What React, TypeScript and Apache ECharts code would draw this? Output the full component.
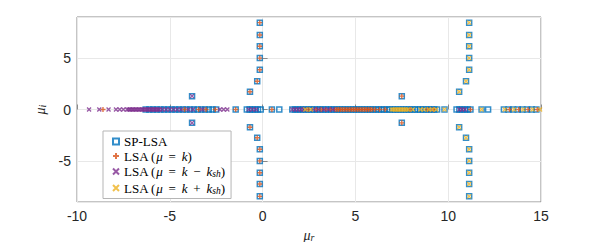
import { useEffect, useRef } from 'react';
import * as echarts from 'echarts';

// ---- data ----
const spRealRe = [
  -6.3, -6.1, -5.9, -5.7, -5.5, -5.3, -5.1, -4.9, -4.7, -4.5, -4.3, -4.1, -3.9, -3.7, -3.5, -3.3,
  -3.1, -2.9, -2.7, -2.5, -1.45, -0.85, -0.7, -0.55, -0.4, -0.25, -0.1, 0.5, 0.9,
  1.6, 1.75, 1.9, 2.05, 2.2, 2.35, 2.5, 2.65, 2.8, 2.95, 3.1, 3.25, 3.4, 3.55, 3.7, 3.85, 4.0,
  4.15, 4.3, 4.45, 4.6, 4.75, 4.9, 5.05, 5.2, 5.35, 5.5, 5.65, 5.8, 5.95, 6.1, 6.25, 6.4, 6.55,
  6.7, 6.85, 7.0, 7.15, 7.3, 7.45, 7.6, 7.75, 7.9, 8.05, 8.2, 8.35, 8.5, 8.65, 8.8, 8.95, 9.1,
  9.25, 9.4, 9.8, 10.45, 10.6, 10.75, 10.9, 11.05, 11.2, 11.8, 12.15, 13.0, 13.25, 13.5, 13.75,
  14.0, 14.25, 14.5, 14.75,
];
const kRealRe = [
  -8.6, -4.2, -3.45, -3.05, -2.55, -1.45, 0.5, 2.45, 2.9, 3.15, 3.4, 3.65, 3.9, 4.0, 4.1, 4.2,
  4.3, 4.4, 4.5, 4.6, 4.7, 4.8, 4.9, 5.0, 5.1, 5.2, 5.3, 5.4, 5.5, 5.6, 5.7, 5.8, 5.9, 6.05, 6.3,
  6.6, 7.95, 8.9, 9.2, 11.2, 13.3, 13.8, 14.3, 14.8,
];
const kMinusRealRe = [
  -9.35, -8.8, -8.3, -7.9, -7.7, -7.5, -7.3, -7.22, -7.14, -7.06, -6.98, -6.9, -6.82, -6.74,
  -6.66, -6.58, -6.5, -6.42, -6.34, -6.26, -6.18, -6.1, -6.02, -5.94, -5.86, -5.78, -5.7, -5.62,
  -5.55, -5.4, -5.2, -5.0, -4.8, -4.6, -4.4, -4.0, -3.75, -3.25, -2.3, -2.1, -1.9, -0.75, -0.55,
  -0.35, 1.6, 1.75, 1.9, 2.05, 2.2, 2.75, 3.0, 3.3, 3.55, 3.8, 10.6, 10.75, 10.9,
];
const kPlusRealRe = [
  2.3, 2.6, 6.95, 7.05, 7.15, 7.25, 7.35, 7.45, 7.55, 7.65, 7.75, 7.85, 8.1, 8.5, 8.7, 8.95,
  9.15, 9.35, 9.8, 11.8, 13.05, 13.55, 14.05, 14.55, 14.95,
];
// complex columns (real part, imaginary part)
const leftColRe = [-0.15, -0.15, -0.15, -0.15, -0.15, -0.29, -0.68, -0.68, -0.29, -0.15, -0.15, -0.15, -0.15, -0.15];
const leftColIm = [8.45, 7.25, 6.15, 5.0, 3.87, 2.75, 1.73, -1.73, -2.75, -3.87, -5.0, -6.15, -7.25, -8.45];
const rightColRe = [11.13, 11.13, 11.13, 11.13, 11.13, 10.96, 10.59, 10.59, 10.96, 11.13, 11.13, 11.13, 11.13, 11.13];
const rightColIm = [8.45, 7.25, 6.15, 5.0, 3.87, 2.75, 1.73, -1.73, -2.75, -3.87, -5.0, -6.15, -7.25, -8.45];
const kMinusPairRe = [-3.8, -3.8];
const kMinusPairIm = [1.3, -1.3];
const kPairRe = [7.5, 7.5];
const kPairIm = [1.3, -1.3];

const xTicks = [-10, -5, 0, 5, 10, 15];
const seriesNames = ['SP-LSA', 'LSA (μ = k)', 'LSA (μ = k − ksh)', 'LSA (μ = k + ksh)'];
const legendRich = [
  '{n|SP-LSA}',
  '{n|LSA (}{i|μ}{n| \u2009=\u2009 }{i|k}{n|)}',
  '{n|LSA (}{i|μ}{n| \u2009=\u2009 }{i|k}{n| \u2009−\u2009 }{i|k}{s|sh}{n|)}',
  '{n|LSA (}{i|μ}{n| \u2009=\u2009 }{i|k}{n| \u2009+\u2009 }{i|k}{s|sh}{n|)}',
];

const real = (xs: number[]) => xs.map((x) => [x, 0]);
const cplx = (re: number[], im: number[]) => re.map((r, i) => [r, im[i]]);

const PLUS = 'path://M5,0L5,10M0,5L10,5';
const CROSS = 'path://M0,0L10,10M10,0L0,10';

export default function App() {
  const ref = useRef<HTMLDivElement>(null);
  useEffect(() => {
    if (!ref.current) return;
    const chart = echarts.init(ref.current, undefined, { renderer: 'svg' });
    const axisColor = '#8a8a8a';
    const labelColor = '#262626';
    const serif = 'Liberation Serif';
    const sans = 'Liberation Sans';
    const blue = '#0072BD';
    const orange = '#D95319';
    const purple = '#7E2F8E';
    const yellow = '#EDB120';
    const clear = 'rgba(0,0,0,0)';
    chart.setOption({
      animation: false,
      backgroundColor: '#fff',
      grid: {
        left: 77, right: 57, top: 17, bottom: 40,
        outerBoundsMode: 'none', containLabel: false,
        show: true, borderColor: axisColor, borderWidth: 1,
      },
      xAxis: {
        type: 'value',
        min: xTicks[0],
        max: xTicks[xTicks.length - 1],
        interval: 5,
        axisLine: { show: false },
        axisTick: { show: true, inside: true, length: 5, lineStyle: { color: axisColor } },
        splitLine: { show: true, lineStyle: { color: '#e8e8e8', width: 1 } },
        axisLabel: { color: labelColor, fontFamily: sans, fontSize: 14, margin: 7 },
        name: '{i|μ}{s|r}',
        nameLocation: 'middle',
        nameGap: 20,
        nameTextStyle: {
          rich: {
            i: { fontFamily: serif, fontStyle: 'italic', fontSize: 14, color: labelColor, lineHeight: 14 },
            s: { fontFamily: serif, fontStyle: 'italic', fontSize: 10, color: labelColor, padding: [5, 0, 0, 0], lineHeight: 14 },
          },
        },
      },
      yAxis: {
        type: 'value',
        min: -9,
        max: 9,
        splitNumber: 4,
        axisLine: { show: false },
        axisTick: { show: true, inside: true, length: 5, lineStyle: { color: axisColor } },
        splitLine: { show: true, lineStyle: { color: '#e8e8e8', width: 1 } },
        axisLabel: { color: labelColor, fontFamily: sans, fontSize: 14, margin: 6, showMinLabel: false, showMaxLabel: false },
        name: '{i|μ}{s|i}',
        nameLocation: 'middle',
        nameGap: 20,
        nameRotate: 90,
        nameTextStyle: {
          rich: {
            i: { fontFamily: serif, fontStyle: 'italic', fontSize: 14, color: labelColor, lineHeight: 14 },
            s: { fontFamily: serif, fontStyle: 'italic', fontSize: 10, color: labelColor, padding: [5, 0, 0, 0], lineHeight: 14 },
          },
        },
      },
      legend: {
        orient: 'vertical',
        left: 103,
        top: 131,
        padding: [4, 6, 3, 9],
        itemGap: 1.5,
        itemWidth: 6,
        itemHeight: 6,
        borderColor: '#b5b5b5',
        borderWidth: 1,
        borderRadius: 0,
        backgroundColor: '#fff',
        data: seriesNames,
        formatter: (name: string) => legendRich[seriesNames.indexOf(name)],
        textStyle: {
          rich: {
            n: { fontFamily: serif, fontSize: 13, color: '#000', lineHeight: 13 },
            i: { fontFamily: serif, fontStyle: 'italic', fontSize: 13, color: '#000', lineHeight: 13 },
            s: { fontFamily: serif, fontStyle: 'italic', fontSize: 9.5, color: '#000', padding: [5, 0, 0, 0], lineHeight: 13 },
          },
        },
      },
      series: [
        {
          name: seriesNames[0],
          type: 'scatter',
          symbol: 'rect',
          symbolSize: 5,
          z: 2,
          itemStyle: { color: clear, borderColor: blue, borderWidth: 1.5 },
          data: [
            ...real(spRealRe),
            ...cplx(leftColRe, leftColIm),
            ...cplx(rightColRe, rightColIm),
            ...cplx(kMinusPairRe, kMinusPairIm),
            ...cplx(kPairRe, kPairIm),
          ],
        },
        {
          name: seriesNames[1],
          type: 'scatter',
          symbol: PLUS,
          symbolSize: 5,
          z: 3,
          itemStyle: { color: clear, borderColor: orange, borderWidth: 1.4 },
          data: [...real(kRealRe), ...cplx(leftColRe, leftColIm), ...cplx(kPairRe, kPairIm)],
        },
        {
          name: seriesNames[2],
          type: 'scatter',
          symbol: CROSS,
          symbolSize: 4,
          z: 4,
          itemStyle: { color: clear, borderColor: purple, borderWidth: 1.3 },
          data: [...real(kMinusRealRe), ...cplx(kMinusPairRe, kMinusPairIm)],
        },
        {
          name: seriesNames[3],
          type: 'scatter',
          symbol: CROSS,
          symbolSize: 4,
          z: 5,
          itemStyle: { color: clear, borderColor: yellow, borderWidth: 1.3 },
          data: [...real(kPlusRealRe), ...cplx(rightColRe, rightColIm)],
        },
      ],
    });
    return () => chart.dispose();
  }, []);
  return (
    <div
      ref={ref}
      style={{ position: 'fixed', left: 0, top: 0, width: 598, height: 242, background: '#fff' }}
    />
  );
}
